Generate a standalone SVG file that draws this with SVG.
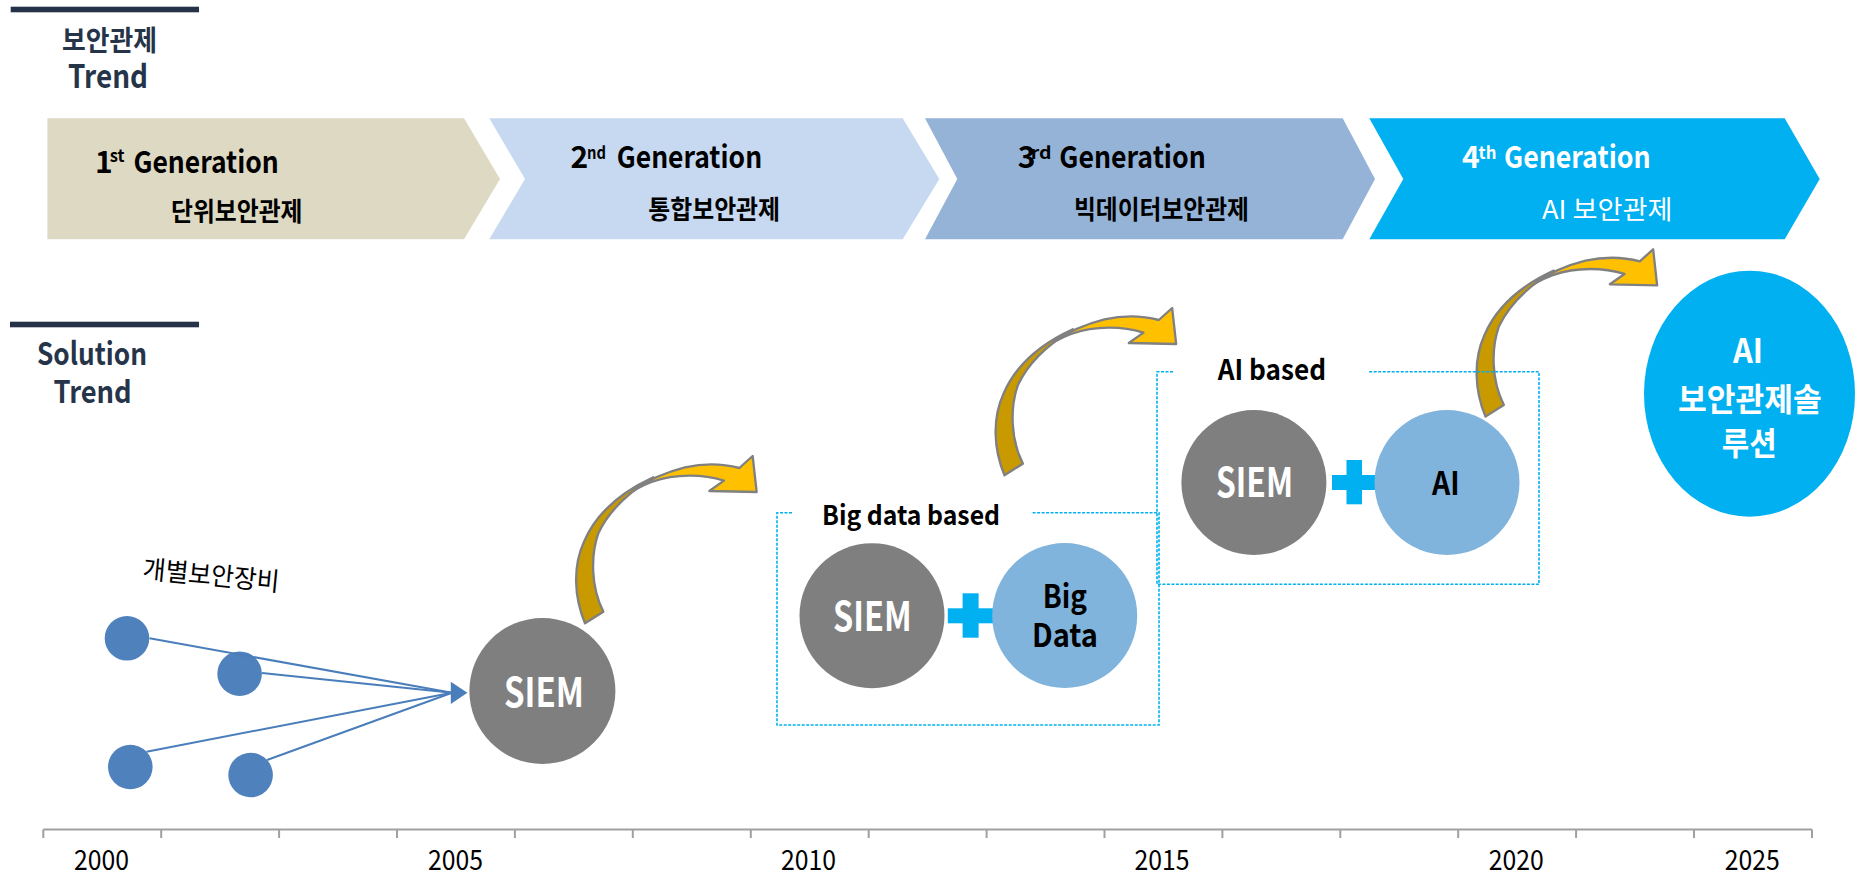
<svg xmlns="http://www.w3.org/2000/svg" width="1859" height="875" viewBox="0 0 1859 875">
<defs>
<style>
.k{font-family:"Noto Sans CJK KR","Noto Sans",sans-serif}
.b{font-weight:bold}
.hd{fill:#263449;font-weight:bold}
.gen{font-size:30px;font-weight:bold}
.sup{font-size:17px;font-weight:bold}
.sub{font-size:26px;font-weight:bold}
.w{fill:#ffffff}
.bk{fill:#000000}
.siem{font-size:40px;font-weight:bold;fill:#ffffff}
.lbl{font-size:32px;font-weight:bold;fill:#000000}
.yr{font-size:28px;fill:#000000}
.dash{fill:none;stroke:#00b0f0;stroke-width:1.6;stroke-dasharray:3 1.5}
.gray{fill:#7f7f7f}
.lb{fill:#80b4dc}
.plus{fill:#00b0f0}
.dev{fill:#4f81bd}
.ln{stroke:#4a7ebb;stroke-width:2;fill:none}
.ax{stroke:#a0a0a0;stroke-width:2;fill:none}
.ay{fill:#ffc000;stroke:#808080;stroke-width:7;stroke-linejoin:round}
.ad{fill:#c99a00;stroke:#808080;stroke-width:7;stroke-linejoin:round}
</style>
<g id="curvedArrow">
<path class="ay" d="M 118,250 C 165,180 255,112 375,82 C 440,68 500,74 538,84 L 578,48 L 590,156 L 448,153 L 492,122 C 430,103 350,100 275,126 C 205,152 150,200 118,250 Z"/>
<path class="ad" d="M 75,550 C 42,470 38,380 72,305 C 105,228 175,160 280,112 C 205,158 145,215 115,280 C 92,345 92,440 130,515 Z"/>
</g>
</defs>
<rect width="1859" height="875" fill="#ffffff"/>

<g id="headers">
<rect x="10.7" y="6.7" width="188.3" height="5.6" fill="#263248"/>
<text class="k hd" x="62" y="51" font-size="28" textLength="95" lengthAdjust="spacingAndGlyphs">보안관제</text>
<text class="k hd" x="68" y="88" font-size="32" textLength="80" lengthAdjust="spacingAndGlyphs">Trend</text>
<rect x="10" y="321.7" width="189" height="5.6" fill="#263248"/>
<text class="k hd" x="37" y="365" font-size="31" textLength="110" lengthAdjust="spacingAndGlyphs">Solution</text>
<text class="k hd" x="53.4" y="403" font-size="31" textLength="78.3" lengthAdjust="spacingAndGlyphs">Trend</text>
</g>

<g id="gen1">
<polygon points="47.4,118.3 464,118.3 500,179 464,239.3 47.4,239.3" fill="#ddd9c3"/>
<text class="k gen bk" x="95" y="173">1</text>
<text class="k sup bk" x="109.7" y="161.5" textLength="14.8" lengthAdjust="spacingAndGlyphs">st</text>
<text class="k gen bk" x="133.5" y="173" textLength="145.3" lengthAdjust="spacingAndGlyphs">Generation</text>
<text class="k sub bk" x="171" y="221" textLength="131.5" lengthAdjust="spacingAndGlyphs">단위보안관제</text>
</g>
<g id="gen2">
<polygon points="489.3,118.3 902.7,118.3 939.3,179 902.7,239.3 489.3,239.3 525,179" fill="#c6d9f1"/>
<text class="k gen bk" x="570.6" y="168">2</text>
<text class="k sup bk" x="587" y="158.5" textLength="19" lengthAdjust="spacingAndGlyphs">nd</text>
<text class="k gen bk" x="616.8" y="168" textLength="145.3" lengthAdjust="spacingAndGlyphs">Generation</text>
<text class="k sub bk" x="648.3" y="218.5" textLength="131.7" lengthAdjust="spacingAndGlyphs">통합보안관제</text>
</g>
<g id="gen3">
<polygon points="925,118.3 1342.7,118.3 1375,179 1342.7,239.3 925,239.3 957.3,179" fill="#95b3d7"/>
<text class="k gen bk" x="1017.8" y="168">3</text>
<text class="k sup bk" x="1030.8" y="158.5" textLength="20.8" lengthAdjust="spacingAndGlyphs">rd</text>
<text class="k gen bk" x="1059.3" y="168" textLength="146.5" lengthAdjust="spacingAndGlyphs">Generation</text>
<text class="k sub bk" x="1074" y="218.5" textLength="175" lengthAdjust="spacingAndGlyphs">빅데이터보안관제</text>
</g>
<g id="gen4">
<polygon points="1369.3,118.3 1784.7,118.3 1819.7,179 1784.7,239.3 1369.3,239.3 1403.3,179" fill="#00b0f0"/>
<text class="k gen w" x="1462" y="168">4</text>
<text class="k sup w" x="1478.6" y="158.5" textLength="17.8" lengthAdjust="spacingAndGlyphs">th</text>
<text class="k gen w" x="1504" y="168" textLength="146.6" lengthAdjust="spacingAndGlyphs">Generation</text>
<text class="k w" x="1542" y="218.5" font-size="26" textLength="130.6" lengthAdjust="spacingAndGlyphs">AI 보안관제</text>
</g>

<g id="devices">
<text class="k bk" x="142" y="578" font-size="26" transform="rotate(5.5 142 578)" textLength="137" lengthAdjust="spacingAndGlyphs">개별보안장비</text>
<circle class="dev" cx="127" cy="638.3" r="22.3"/>
<circle class="dev" cx="239.6" cy="673.7" r="22.3"/>
<circle class="dev" cx="130.3" cy="767" r="22.3"/>
<circle class="dev" cx="250.6" cy="775" r="22.3"/>
</g>

<g id="connectors">
<line class="ln" x1="149.5" y1="638.3" x2="452" y2="692.8"/>
<line class="ln" x1="262" y1="673" x2="452" y2="692.8"/>
<line class="ln" x1="146.5" y1="751.7" x2="452" y2="692.8"/>
<line class="ln" x1="267" y1="760" x2="452" y2="692.8"/>
<polygon points="450.8,681.7 467.4,692.8 450.8,704" fill="#4a7ebb"/>
<use href="#curvedArrow" transform="translate(560,440) scale(0.3333)"/>
<use href="#curvedArrow" transform="translate(979.5,292) scale(0.3333)"/>
<use href="#curvedArrow" transform="translate(1460.5,233.3) scale(0.3333)"/>
</g>

<g id="siem2005">
<circle class="gray" cx="542.4" cy="691" r="73"/>
<text class="k siem" x="504" y="707" textLength="80" lengthAdjust="spacingAndGlyphs">SIEM</text>
</g>

<g id="bigdata">
<path class="dash" d="M 792,512.7 L 777,512.7 L 777,725 L 1159,725 L 1159,512.7 L 1031,512.7"/>
<text class="k bk b" x="822" y="525" font-size="27" textLength="178" lengthAdjust="spacingAndGlyphs">Big data based</text>
<circle class="gray" cx="872" cy="615.7" r="72.5"/>
<text class="k siem" x="833" y="630.5" textLength="78.6" lengthAdjust="spacingAndGlyphs">SIEM</text>
<rect class="plus" x="962.6" y="593.3" width="16" height="44.4"/>
<rect class="plus" x="947.8" y="608.3" width="45.7" height="15"/>
<circle class="lb" cx="1064.7" cy="615.5" r="72.5"/>
<text class="k lbl" x="1042.7" y="608" textLength="44.3" lengthAdjust="spacingAndGlyphs">Big</text>
<text class="k lbl" x="1032" y="646.7" textLength="66" lengthAdjust="spacingAndGlyphs">Data</text>
</g>

<g id="aibased">
<path class="dash" d="M 1173,371.7 L 1157,371.7 L 1157,584.3 L 1539,584.3 L 1539,371.7 L 1369,371.7"/>
<text class="k bk b" x="1217.7" y="380" font-size="28" textLength="108.3" lengthAdjust="spacingAndGlyphs">AI based</text>
<circle class="gray" cx="1253.9" cy="482.5" r="72.5"/>
<text class="k siem" x="1216" y="496.5" textLength="77" lengthAdjust="spacingAndGlyphs">SIEM</text>
<rect class="plus" x="1346.5" y="460" width="15.5" height="44.3"/>
<rect class="plus" x="1332" y="475" width="44" height="15"/>
<circle class="lb" cx="1447" cy="482.5" r="72.5"/>
<text class="k lbl" x="1432" y="495" font-size="30" textLength="27.6" lengthAdjust="spacingAndGlyphs">AI</text>
</g>

<g id="aisolution">
<ellipse cx="1749.5" cy="393.7" rx="105.5" ry="123" fill="#00b0f0"/>
<text class="k b w" x="1733" y="362.7" font-size="34" textLength="30" lengthAdjust="spacingAndGlyphs">AI</text>
<text class="k b w" x="1678" y="411" font-size="32" textLength="143.7" lengthAdjust="spacingAndGlyphs">보안관제솔</text>
<text class="k b w" x="1721.7" y="455" font-size="32" textLength="55" lengthAdjust="spacingAndGlyphs">루션</text>
</g>

<g id="axis">
<path class="ax" d="M 43.3,829.5 L 1812,829.5 M 43.3,829.5 V 838 M 161.2,829.5 V 838 M 279.1,829.5 V 838 M 397,829.5 V 838 M 514.9,829.5 V 838 M 632.8,829.5 V 838 M 750.8,829.5 V 838 M 868.7,829.5 V 838 M 986.6,829.5 V 838 M 1104.5,829.5 V 838 M 1222.4,829.5 V 838 M 1340.3,829.5 V 838 M 1458.2,829.5 V 838 M 1576.1,829.5 V 838 M 1694,829.5 V 838 M 1812,829.5 V 838"/>
<text class="k yr" x="74" y="870" textLength="55" lengthAdjust="spacingAndGlyphs">2000</text>
<text class="k yr" x="428" y="870" textLength="55" lengthAdjust="spacingAndGlyphs">2005</text>
<text class="k yr" x="781" y="870" textLength="55" lengthAdjust="spacingAndGlyphs">2010</text>
<text class="k yr" x="1134.6" y="870" textLength="55" lengthAdjust="spacingAndGlyphs">2015</text>
<text class="k yr" x="1488.7" y="870" textLength="55" lengthAdjust="spacingAndGlyphs">2020</text>
<text class="k yr" x="1724.8" y="870" textLength="55" lengthAdjust="spacingAndGlyphs">2025</text>
</g>
</svg>
